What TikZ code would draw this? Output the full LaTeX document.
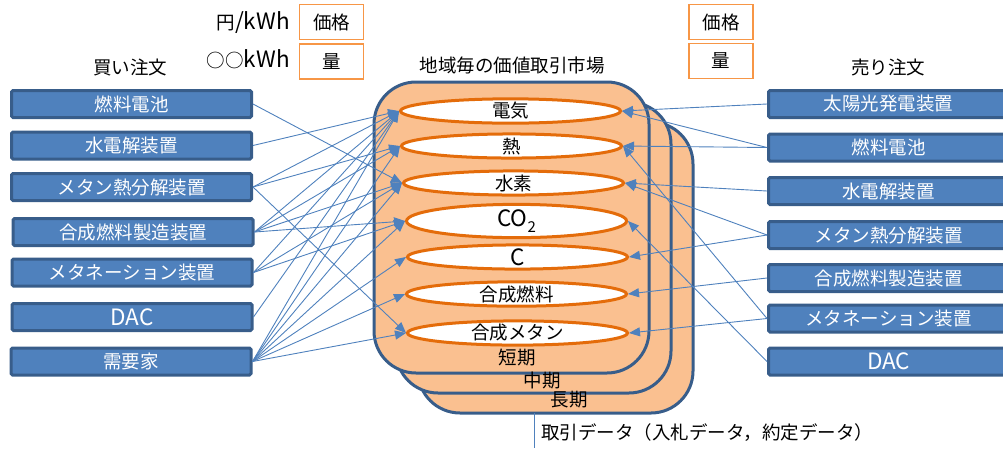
\documentclass[tikz,border=0pt]{standalone}
\usepackage{fontspec}
\setmainfont{Noto Sans CJK JP}
\usetikzlibrary{arrows.meta,shapes.geometric}
\definecolor{boxfill}{HTML}{4F81BD}
\definecolor{boxline}{HTML}{385D8A}
\definecolor{mkfill}{HTML}{FAC090}
\definecolor{ellline}{HTML}{E46C0A}
\definecolor{orng}{HTML}{F79646}
\definecolor{conn}{HTML}{4F81BD}
\newcommand{\lat}[1]{{\fontsize{22.5}{24}\selectfont #1}}
\begin{document}
\begin{tikzpicture}[x=1pt,y=-1pt, font=\fontsize{18.5}{22}\selectfont,
 actor/.style={draw=boxline, fill=boxfill, line width=3pt, rounded corners=1.5pt, minimum width=240pt, minimum height=27pt, text=white, inner sep=0pt},
 good/.style={ellipse, draw=ellline, fill=white, line width=3pt, minimum width=220pt, minimum height=22pt, inner sep=0pt},
 market/.style={draw=boxline, fill=mkfill, line width=3pt, rounded corners=42pt},
 tag/.style={draw=orng, fill=white, line width=1.3pt, minimum width=64pt, minimum height=35pt, inner sep=0pt},
 flow/.style={draw=conn, line width=0.9pt, -{Triangle[length=11pt,width=9pt]}},
 plain/.style={inner sep=0pt}]
\useasboundingbox (0,0) rectangle (1003,448);

% top labels
\node[plain, anchor=east] (yen) at (290,23) {円\lat{/kWh}};
\node[plain, anchor=east] (kwh) at (290,59) {○○\lat{kWh}};
\node[tag] (priceL) at (331.5,22) {価格};
\node[tag] (qtyL) at (331.5,61.5) {量};
\node[tag] (priceR) at (721,22) {価格};
\node[tag] (qtyR) at (721,61) {量};
\node[plain] (buy) at (130,67) {買い注文};
\node[plain] (sell) at (888,67) {売り注文};
\node[plain] (title) at (512,65) {地域毎の価値取引市場};

% market layers
\draw[market] (418,122) rectangle (693,413);
\draw[market] (396,102) rectangle (671,393);
\draw[market] (374,82) rectangle (649,373);
\node[plain] (short) at (517,358) {短期};
\node[plain] (mid) at (542,380) {中期};
\node[plain] (long) at (569,400) {長期};

% goods
\node[good] (E1) at (510.5,111) {電気};
\node[good] (E2) at (511.5,146) {熱};
\node[good] (E3) at (513.5,183) {水素};
\node[good] (E4) at (516.5,221) {\lat{CO\raisebox{-0.3em}{\fontsize{15}{15}\selectfont 2}}};
\node[good] (E5) at (517.5,257) {\lat{C}};
\node[good] (E6) at (516.5,294) {合成燃料};
\node[good] (E7) at (517.5,333) {合成メタン};

% buyers
\node[actor] (L1) at (131.5,104) {燃料電池};
\node[actor] (L2) at (131.5,145.5) {水電解装置};
\node[actor] (L3) at (131.5,187) {メタン熱分解装置};
\node[actor] (L4) at (133,232) {合成燃料製造装置};
\node[actor] (L5) at (132,272.5) {メタネーション装置};
\node[actor] (L6) at (132,317) {\lat{DAC}};
\node[actor] (L7) at (131,361.5) {需要家};

% sellers
\node[actor] (R1) at (888.5,104) {太陽光発電装置};
\node[actor] (R2) at (888.5,147.5) {燃料電池};
\node[actor] (R3) at (888.5,191) {水電解装置};
\node[actor] (R4) at (888.5,235) {メタン熱分解装置};
\node[actor] (R5) at (888.5,278) {合成燃料製造装置};
\node[actor] (R6) at (888.5,318.5) {メタネーション装置};
\node[actor] (R7) at (888.5,361.5) {\lat{DAC}};

% buy flows
\draw[flow] (L1.east) -- (E3.west);
\draw[flow] (L2.east) -- (E1.west);
\foreach \t in {E1,E2,E7} \draw[flow] (L3.east) -- (\t.west);
\foreach \t in {E1,E2,E3,E4} \draw[flow] (L4.east) -- (\t.west);
\foreach \t in {E1,E3,E4} \draw[flow] (L5.east) -- (\t.west);
\draw[flow] (L6.east) -- (E1.west);
\foreach \t in {E1,E2,E3,E4,E5,E6,E7} \draw[flow] (L7.east) -- (\t.west);

% sell flows
\draw[flow] (R1.west) -- (E1.east);
\draw[flow] (R2.west) -- (E1.east);
\draw[flow] (R2.west) -- (E2.east);
\draw[flow] (R3.west) -- (E3.east);
\draw[flow] (R4.west) -- (E3.east);
\draw[flow] (R4.west) -- (E5.east);
\draw[flow] (R5.west) -- (E6.east);
\draw[flow] (R6.west) -- (E7.east);
\draw[flow] (R6.west) -- (E2.east);
\draw[flow] (R7.west) -- (E4.east);

% trade data
\coordinate (dtop) at (534,413);
\coordinate (dbot) at (534,448);
\draw[draw=conn, line width=1pt] (dtop) -- (dbot);
\node[plain, anchor=west] (data) at (541,433) {取引データ（入札データ，約定データ）};
\end{tikzpicture}
\end{document}
